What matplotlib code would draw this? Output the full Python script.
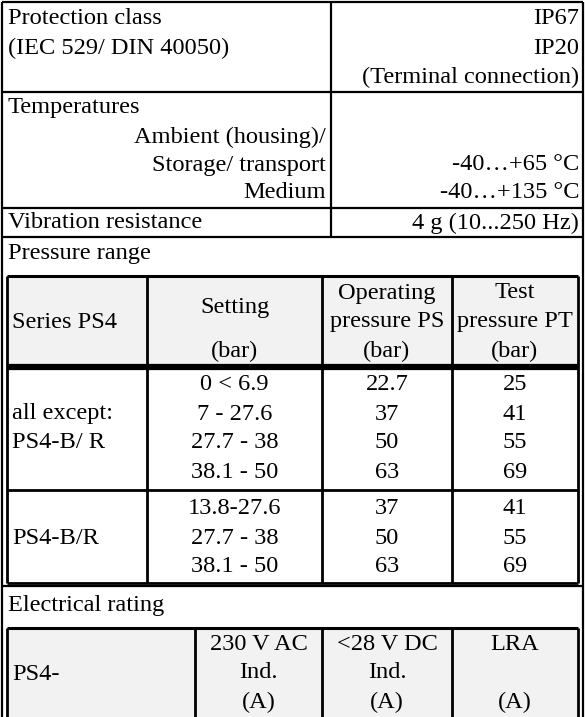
import matplotlib.pyplot as plt
from matplotlib.patches import Rectangle

plt.rcParams['font.family'] = ['Liberation Serif', 'DejaVu Serif']
FS = 17.6

# --- data ---
protection_left = ["Protection class", "(IEC 529/ DIN 40050)"]
protection_right = ["IP67", "IP20", "(Terminal connection)"]
temp_labels = ["Ambient (housing)/", "Storage/ transport", "Medium"]
temp_values = ["", "-40…+65 °C", "-40…+135 °C"]
vibration = ("Vibration resistance", "4 g (10...250 Hz)")
press_header = [["Series PS4"], ["", "", "(bar)"],
                ["Operating", "pressure PS", "(bar)"], ["Test", "pressure PT", "(bar)"]]
group1_settings = ["0 < 6.9", "7 - 27.6", "27.7 - 38", "38.1 - 50"]
group1_ps = ["22.7", "37", "50", "63"]
group1_pt = ["25", "41", "55", "69"]
group2_settings = ["13.8-27.6", "27.7 - 38", "38.1 - 50"]
group2_ps = ["37", "50", "63"]
group2_pt = ["41", "55", "69"]
elec_header = [["PS4-"], ["230 V AC", "Ind.", "(A)"], ["<28 V DC", "Ind.", "(A)"], ["LRA", "", "(A)"]]

W, H = 585, 717
fig = plt.figure(figsize=(W / 100, H / 100), dpi=100)
ax = fig.add_axes([0, 0, 1, 1])
ax.set_xlim(0, W)
ax.set_ylim(H, 0)
ax.axis('off')


def line(x0, y0, x1, y1, lw=1.6):
    ax.plot([x0, x1], [y0, y1], color='black', lw=lw, solid_capstyle='butt')


def txt(x, y, s, ha='left'):
    ax.text(x, y, s, ha=ha, va='center', fontsize=FS)


# outer frame
line(2, 2, 583, 2)
line(2, 2, 2, 717)
line(583, 2, 583, 717)
line(2, 92, 583, 92)
line(2, 208, 583, 208)
line(2, 237, 583, 237)
line(331, 2, 331, 92)
line(331, 92, 331, 237)
line(2, 586, 583, 586)

# protection
for i, s in enumerate(protection_left):
    txt(8, 19 + 29 * i, s)
for i, s in enumerate(protection_right):
    txt(579, 19 + 29 * i, s, 'right')

# temperatures
txt(8, 108, "Temperatures")
for i, (a, b) in enumerate(zip(temp_labels, temp_values)):
    txt(326, 137 + 28 * i, a, 'right')
    txt(579, 137 + 28 * i, b, 'right')

txt(8, 223, vibration[0])
txt(579, 223, vibration[1], 'right')

# pressure range table
txt(8, 254, "Pressure range")
cols = [7, 147, 322, 452, 578]
top, hb, sep, bot = 276, 367, 490, 583
ax.add_patch(Rectangle((cols[0], top), cols[-1] - cols[0], hb - top, color='#f2f2f2', lw=0))
line(cols[0], top, cols[-1], top, 2.2)
line(cols[0], hb, cols[-1], hb, 4.5)
line(cols[0], sep, cols[-1], sep, 2)
line(cols[0], bot, cols[-1], bot, 2)
for x in cols:
    line(x, top, x, bot, 2)
centers = [(cols[i] + cols[i + 1]) / 2 for i in range(4)]
txt(12, 322, press_header[0][0])
for c, hdr in zip(centers[1:], press_header[1:]):
    for j, s in enumerate(hdr):
        if s:
            ax.text(c, 293 + 29 * j, s, ha='center', va='center', fontsize=FS)
ax.text(centers[1], 307, "Setting", ha='center', va='center', fontsize=FS)

for i in range(4):
    y = 385 + 29 * i
    ax.text(centers[1], y, group1_settings[i], ha='center', va='center', fontsize=FS)
    ax.text(centers[2], y, group1_ps[i], ha='center', va='center', fontsize=FS)
    ax.text(centers[3], y, group1_pt[i], ha='center', va='center', fontsize=FS)
txt(12, 414, "all except:")
txt(12, 443, "PS4-B/ R")
for i in range(3):
    y = 509 + 29 * i
    ax.text(centers[1], y, group2_settings[i], ha='center', va='center', fontsize=FS)
    ax.text(centers[2], y, group2_ps[i], ha='center', va='center', fontsize=FS)
    ax.text(centers[3], y, group2_pt[i], ha='center', va='center', fontsize=FS)
txt(12, 538, "PS4-B/R")

# electrical rating
txt(8, 606, "Electrical rating")
ecols = [7, 195, 322, 452, 578]
etop = 628
ax.add_patch(Rectangle((ecols[0], etop), ecols[-1] - ecols[0], H - etop, color='#f2f2f2', lw=0))
line(ecols[0], etop, ecols[-1], etop, 2.2)
for x in ecols:
    line(x, etop, x, H, 2)
ecent = [(ecols[i] + ecols[i + 1]) / 2 for i in range(4)]
txt(12, 674, elec_header[0][0])
for c, hdr in zip(ecent[1:], elec_header[1:]):
    for j, s in enumerate(hdr):
        if s:
            ax.text(c, 644 + 29 * j, s, ha='center', va='center', fontsize=FS)

fig.savefig('out.png', dpi=100)
